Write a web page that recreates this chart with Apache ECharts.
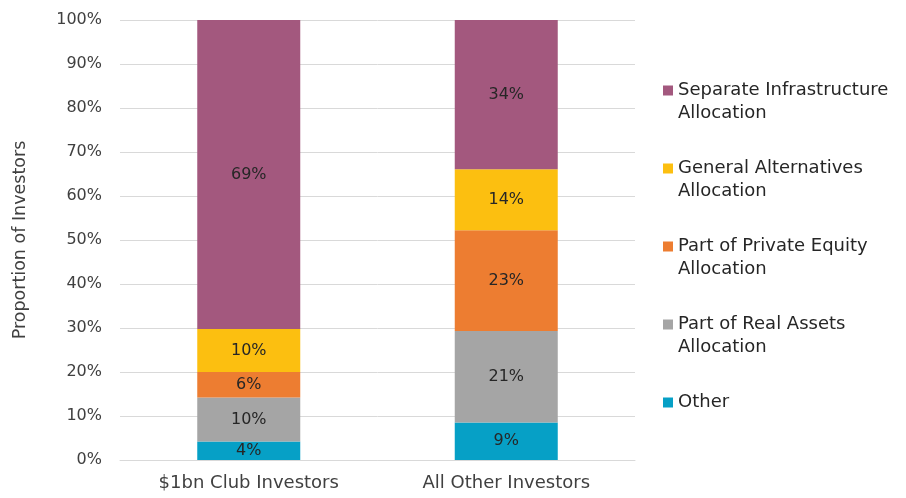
<!DOCTYPE html>
<html>
<head>
<meta charset="utf-8">
<script src="https://cdn.jsdelivr.net/npm/echarts@6/dist/echarts.min.js"></script>
<style>
  html, body { margin: 0; padding: 0; background: #fff; }
  #chart { width: 906px; height: 498px; }
</style>
</head>
<body>
<div id="chart"></div>
<script>
const categories = ['$1bn Club Investors', 'All Other Investors']

// segment sizes (% of investors), bottom to top
const other = [4.2, 8.5]
const realAssets = [10.0, 20.8]
const privateEquity = [5.8, 22.9]
const generalAlt = [9.8, 13.9]
const separateInfra = [70.2, 33.9]

// labels as printed on the bars
const otherLabels = ['4%', '9%']
const realAssetsLabels = ['10%', '21%']
const privateEquityLabels = ['6%', '23%']
const generalAltLabels = ['10%', '14%']
const separateInfraLabels = ['69%', '34%']

const yTicks = [0, 10, 20, 30, 40, 50, 60, 70, 80, 90, 100]

const font = 'DejaVu Sans'

const makeSeries = (name, data, labels, color) => {
  return {
    name: name,
    type: 'bar',
    stack: 'total',
    barWidth: '40%',
    itemStyle: { color: color },
    label: {
      show: true,
      position: 'inside',
      color: '#262626',
      fontFamily: font,
      fontSize: 16,
      formatter: p => labels[p.dataIndex]
    },
    data: data
  }
}

// blank first line keeps the first text line level with the legend square
const legendNames = {
  'Separate Infrastructure Allocation': ' \nSeparate Infrastructure\nAllocation',
  'General Alternatives Allocation': ' \nGeneral Alternatives\nAllocation',
  'Part of Private Equity Allocation': ' \nPart of Private Equity\nAllocation',
  'Part of Real Assets Allocation': ' \nPart of Real Assets\nAllocation',
  'Other': ' \nOther\n '
}

const options = {
  animation: false,
  grid: {
    left: 120,
    right: 271,
    top: 20,
    bottom: 38
  },
  legend: {
    orient: 'vertical',
    left: 663,
    top: 56,
    padding: 0,
    itemWidth: 10,
    itemHeight: 10,
    itemGap: 9,
    icon: 'rect',
    data: Object.keys(legendNames),
    formatter: n => legendNames[n],
    textStyle: {
      fontFamily: font,
      fontSize: 18,
      color: '#262626',
      lineHeight: 23
    }
  },
  xAxis: {
    type: 'category',
    data: categories,
    axisLine: { lineStyle: { color: '#D9D9D9' } },
    axisTick: { show: false },
    axisLabel: {
      margin: 14,
      color: '#404040',
      fontFamily: font,
      fontSize: 18
    }
  },
  yAxis: {
    type: 'value',
    min: yTicks[0],
    max: yTicks[yTicks.length - 1],
    interval: 10,
    name: 'Proportion of Investors',
    nameLocation: 'middle',
    nameGap: 91,
    nameTextStyle: {
      fontFamily: font,
      fontSize: 17.5,
      color: '#404040'
    },
    axisLine: { show: false },
    axisTick: { show: false },
    splitLine: { lineStyle: { color: '#D9D9D9' } },
    axisLabel: {
      margin: 18,
      color: '#404040',
      fontFamily: font,
      fontSize: 16,
      formatter: '{value}%'
    }
  },
  series: [
    makeSeries('Other', other, otherLabels, '#06A0C6'),
    makeSeries('Part of Real Assets Allocation', realAssets, realAssetsLabels, '#A5A5A5'),
    makeSeries('Part of Private Equity Allocation', privateEquity, privateEquityLabels, '#ED7D31'),
    makeSeries('General Alternatives Allocation', generalAlt, generalAltLabels, '#FCBF10'),
    makeSeries('Separate Infrastructure Allocation', separateInfra, separateInfraLabels, '#A3587E')
  ]
}

const ChartEl = echarts.init(document.getElementById('chart'))
ChartEl.setOption(options)
</script>
</body>
</html>
